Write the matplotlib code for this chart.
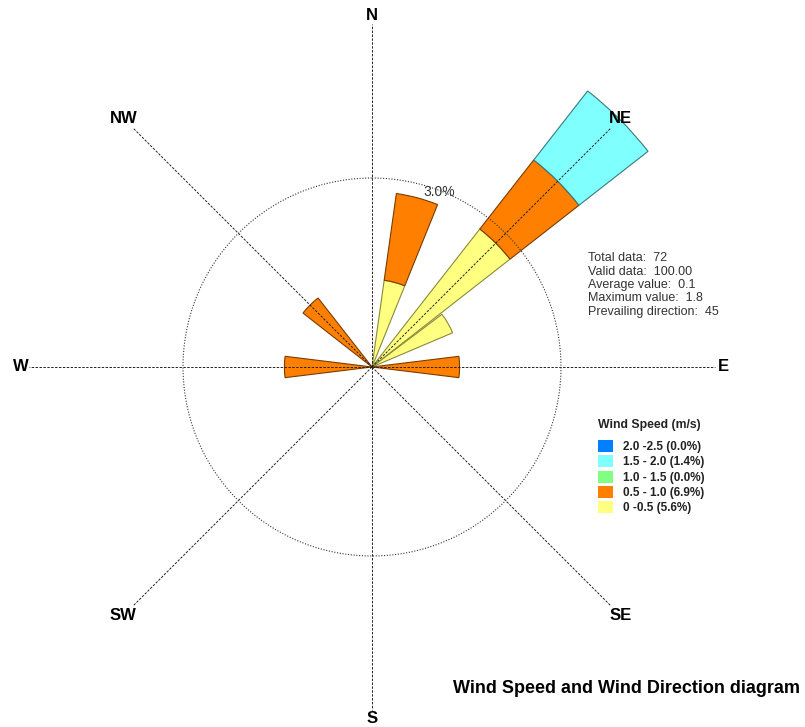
import numpy as np
import matplotlib.pyplot as plt
from matplotlib.patches import Patch

plt.rcParams['font.family'] = ['Liberation Sans', 'DejaVu Sans']

# Frequency (%) per direction sector, stacked by wind speed class
directions = [15, 45, 60, 90, 270, 315]
speed_0_05 = [1.39, 2.78, 1.39, 0.0, 0.0, 0.0]
speed_05_10 = [1.39, 1.39, 0.0, 1.39, 1.39, 1.39]
speed_15_20 = [0.0, 1.39, 0.0, 0.0, 0.0, 0.0]

legend_labels = ['2.0 -2.5 (0.0%)', '1.5 - 2.0 (1.4%)', '1.0 - 1.5 (0.0%)',
                 '0.5 - 1.0 (6.9%)', '0 -0.5 (5.6%)']
legend_colors = ['#0080ff', '#80ffff', '#80ff80', '#ff8000', '#ffff80']

compass = ['N', 'NE', 'E', 'SE', 'S', 'SW', 'W', 'NW']
compass_deg = [0, 45, 90, 135, 180, 225, 270, 315]

stats = ['Total data:  72', 'Valid data:  100.00', 'Average value:  0.1',
         'Maximum value:  1.8', 'Prevailing direction:  45']

fig = plt.figure(figsize=(8.05, 7.27), dpi=100)
ax = fig.add_axes([0.02385, 0.0099, 0.8765, 0.9706], projection='polar')
ax.set_theta_zero_location('N')
ax.set_theta_direction(-1)
ax.set_ylim(0, 5.6)
ax.axis('off')

theta = np.radians(directions)
width = np.radians(14)
base = np.zeros(len(directions))
series = [(speed_0_05, '#ffff80', '#8a8a3a'),
          (speed_05_10, '#ff8000', '#7a3c00'),
          (speed_15_20, '#80ffff', '#3a7a7a')]
for vals, fc, ec in series:
    vals = np.array(vals)
    m = vals > 0
    ax.bar(theta[m], vals[m], width=width, bottom=base[m], color=fc,
           edgecolor=ec, linewidth=0.8, zorder=2)
    base = base + vals

# compass lines and labels
for d, name in zip(compass_deg, compass):
    r_end = 5.45 if d % 90 == 0 else 5.35
    ax.plot([np.radians(d), np.radians(d)], [0, r_end], color='#222222',
            lw=0.7, ls=(0, (2.5, 1.5)), zorder=3, clip_on=False)
    ax.text(np.radians(d), 5.58, name, ha='center', va='center',
            fontsize=12, fontweight='bold', clip_on=False, zorder=4)

# 3% ring
ring = np.linspace(0, 2 * np.pi, 361)
ax.plot(ring, np.full_like(ring, 3.0), color='#333333', lw=0.8,
        ls=(0, (1, 1.5)), zorder=3)
ax.text(np.radians(21), 2.97, '3.0%', ha='center', va='center',
        fontsize=10, color='#333333')

# statistics
fig.text(0.730, 0.653, '\n'.join(stats), ha='left', va='top',
         fontsize=9, color='#333333', linespacing=1.15)

# legend
fig.text(0.743, 0.415, 'Wind Speed (m/s)', ha='left', va='center',
         fontsize=8.8, fontweight='bold', color='#222222')
handles = [Patch(facecolor=c, edgecolor='none') for c in legend_colors]
leg = fig.legend(handles, legend_labels, loc='upper left',
                 bbox_to_anchor=(0.743, 0.395), frameon=False, fontsize=8.5,
                 handlelength=1.27, handleheight=1.19, labelspacing=0.2,
                 handletextpad=0.85, borderaxespad=0, borderpad=0)
for t in leg.get_texts():
    t.set_fontweight('bold')
    t.set_color('#222222')

fig.text(0.994, 0.053, 'Wind Speed and Wind Direction diagram', ha='right',
         va='center', fontsize=13, fontweight='bold')

fig.savefig('out.png', dpi=100)
